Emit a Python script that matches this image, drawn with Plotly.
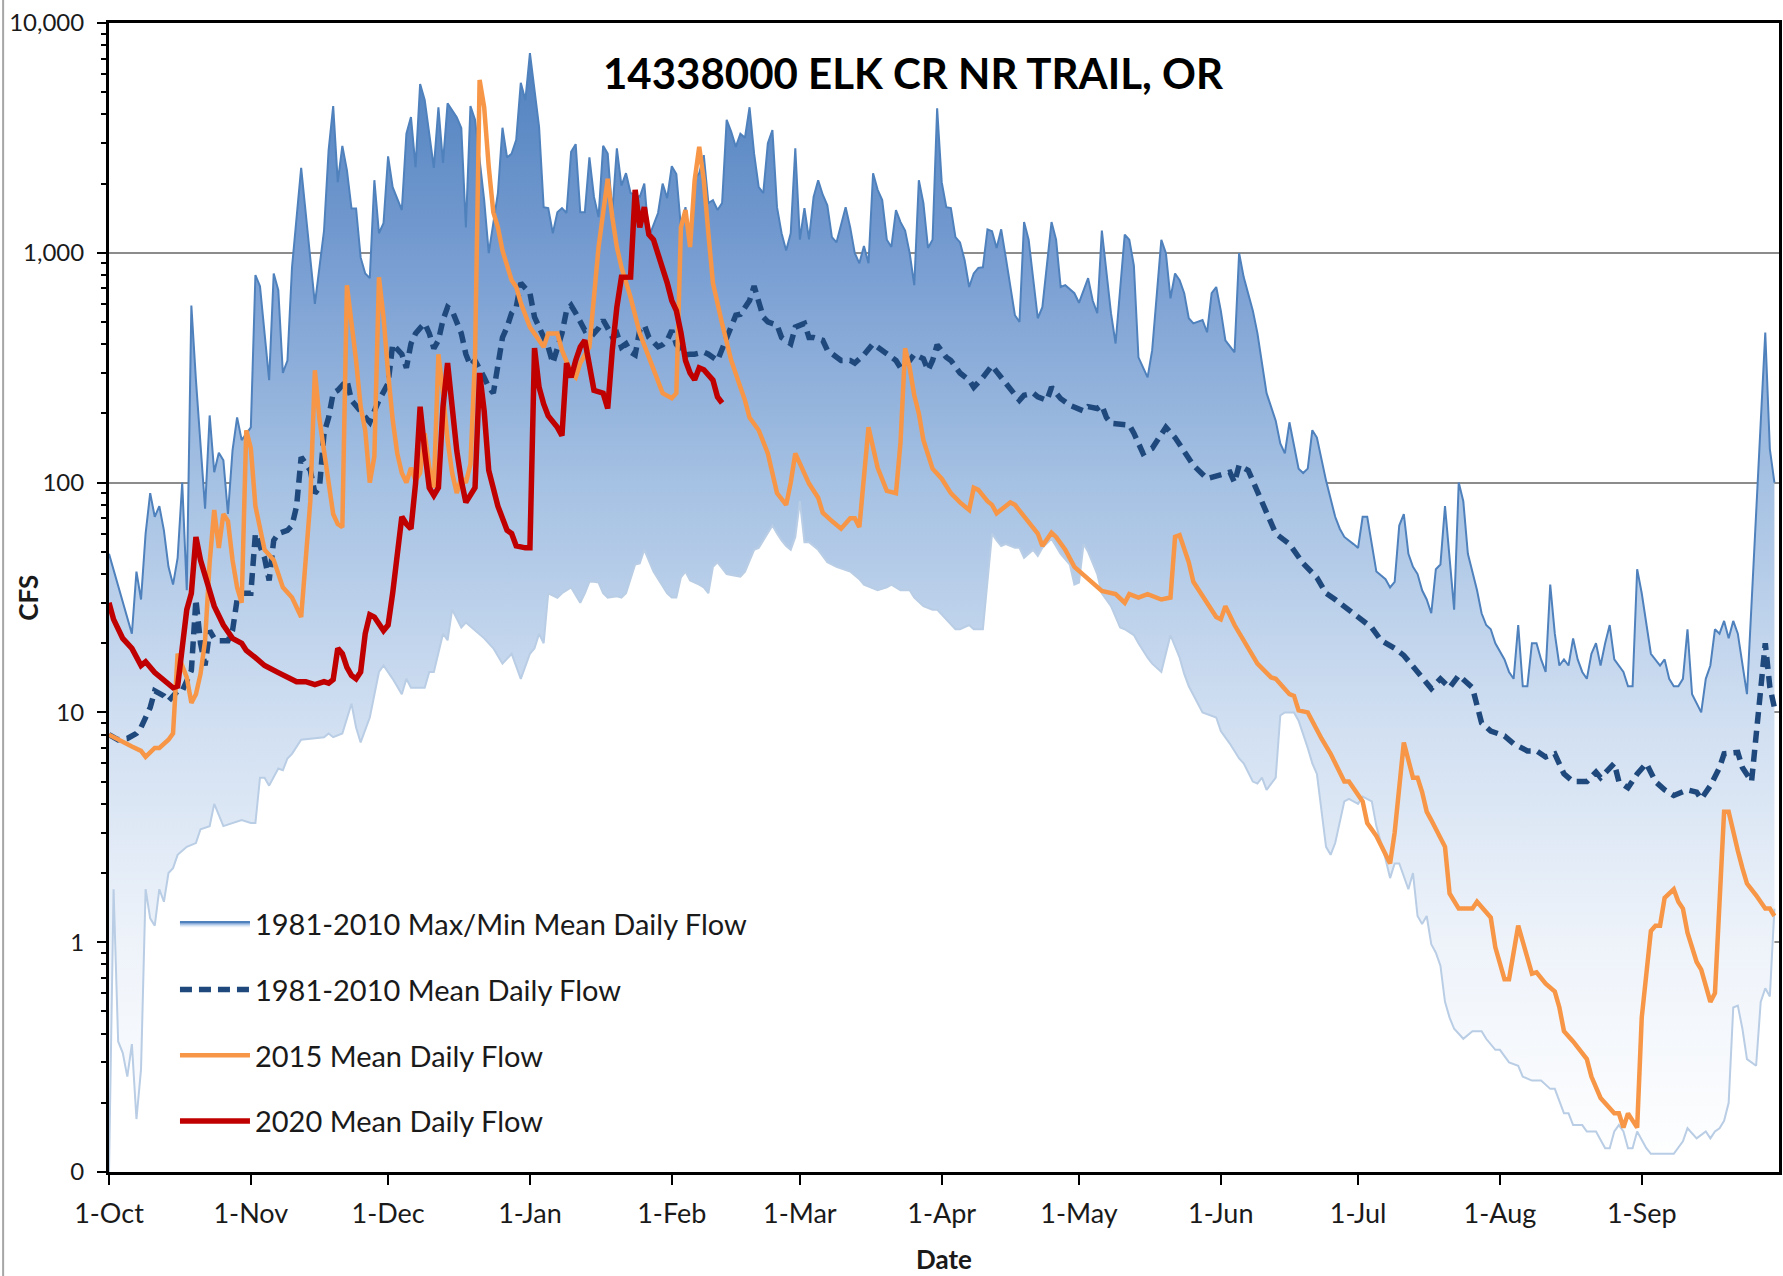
import datetime as dt
import plotly.graph_objects as go

# Water-year day index (0 = 1-Oct) and daily flow in cfs
START = dt.date(2014, 10, 1)

max_day = [0, 5, 6, 7, 8, 9, 10, 11, 12, 13, 14, 15, 16, 17, 18, 19, 21, 22, 23, 24, 25, 26, 27, 28, 29, 31,
           32, 33, 35, 36, 37, 38, 39, 40, 42, 43, 45, 47, 48, 49, 50, 51, 52, 53, 54, 55, 56, 57, 58, 59, 60,
           61, 62, 64, 65, 66, 67, 68, 69, 71, 72, 73, 74, 76, 77, 78, 79, 80, 82, 83, 85, 86, 87, 88, 89, 90,
           91, 92, 93, 94, 95, 96, 97, 98, 99, 100, 101, 102, 103, 104, 105, 106, 107, 108, 109, 110, 111, 112,
           113, 114, 116, 117, 118, 120, 121, 122, 123, 124, 125, 126, 127, 128, 129, 130, 131, 132, 133, 134,
           135, 136, 137, 138, 139, 140, 141, 142, 143, 144, 145, 146, 147, 148, 149, 150, 151, 152, 153, 154,
           155, 156, 157, 158, 159, 160, 161, 162, 163, 164, 165, 166, 167, 168, 169, 170, 171, 172, 173, 174,
           175, 176, 177, 178, 179, 180, 181, 182, 183, 184, 185, 186, 187, 188, 189, 190, 191, 192, 193, 194,
           195, 196, 198, 199, 200, 201, 203, 204, 206, 207, 208, 209, 211, 212, 214, 215, 216, 217, 219, 220,
           222, 223, 224, 225, 227, 228, 230, 231, 232, 233, 234, 235, 236, 237, 239, 240, 241, 242, 243, 244,
           246, 247, 248, 250, 251, 253, 255, 256, 257, 258, 260, 261, 262, 263, 264, 266, 268, 269, 270, 272,
           273, 274, 275, 277, 279, 280, 281, 282, 283, 284, 285, 286, 287, 288, 289, 290, 291, 292, 294, 295,
           296, 297, 299, 300, 301, 302, 303, 305, 306, 307, 308, 309, 310, 311, 312, 313, 314, 315, 316, 317,
           318, 319, 320, 321, 322, 323, 324, 325, 326, 327, 328, 329, 331, 332, 333, 334, 335, 337, 338, 339,
           340, 341, 342, 343, 344, 345, 346, 347, 348, 349, 350, 351, 352, 353, 354, 355, 356, 358, 362, 363,
           364]
max_cfs = [49, 22, 41, 31, 60, 90, 71, 79, 62, 43, 36, 47, 100, 34, 590, 280, 77, 196, 111, 135, 125, 73, 138,
           192, 153, 174, 800, 716, 279, 813, 687, 300, 340, 865, 2340, 1490, 600, 1250, 2800, 4350, 2030, 2920,
           2290, 1560, 1560, 955, 813, 776, 2070, 1216, 1345, 2630, 1930, 1535, 3300, 3900, 2360, 5420, 4620,
           2340, 4300, 2460, 4470, 3890, 3490, 1290, 4350, 3790, 1695, 997, 1820, 3500, 2600, 2700, 3100, 5490,
           4620, 7400, 5100, 3530, 1580, 1565, 1216, 1500, 1565, 1490, 2750, 2970, 1500, 1500, 2600, 1750, 1430,
           2920, 2700, 1490, 2850, 1960, 2220, 1820, 1750, 2000, 1170, 1490, 2000, 1730, 2380, 2200, 1290, 1580,
           1060, 2100, 2220, 2660, 1645, 1695, 1535, 1645, 3790, 3360, 2890, 3300, 3170, 4300, 2700, 1930, 1820,
           3000, 3420, 1580, 1216, 1023, 1216, 2850, 1140, 1565, 1145, 1750, 2070, 1790, 1610, 1170, 1110, 1345,
           1580, 1290, 997, 900, 1070, 900, 2220, 1880, 1695, 1140, 1060, 1535, 1360, 1250, 997, 723, 2070, 1645,
           1050, 1140, 4250, 2030, 1580, 1565, 1170, 1110, 930, 710, 813, 860, 865, 1265, 1240, 1050, 1265, 955,
           535, 500, 1360, 1140, 519, 580, 1360, 1140, 710, 723, 667, 606, 776, 620, 546, 1250, 546, 403, 1200,
           1140, 880, 351, 287, 377, 1140, 997, 634, 813, 760, 667, 519, 493, 510, 451, 667, 710, 560, 416, 369,
           997, 784, 560, 447, 245, 186, 148, 134, 183, 115, 110, 115, 169, 157, 102, 71, 63, 58, 54, 52, 71, 71,
           41, 38, 35, 37, 65, 73, 49, 43, 40, 34, 31, 27, 42, 44, 79, 28, 100, 83, 49, 34, 27, 24, 23, 20, 17,
           15, 14, 24, 13, 13, 20, 20, 17, 15, 36, 22, 16, 17, 16, 21, 17, 15, 14, 18, 20, 16, 20, 24, 17, 15,
           13, 13, 42, 33, 18, 17, 16, 17, 14, 13, 13, 14, 23, 12, 11, 10, 14, 16, 23, 22, 25, 21, 25, 22, 12,
           450, 140, 100]

min_day = [0, 1, 2, 3, 4, 5, 6, 7, 8, 9, 10, 11, 12, 13, 14, 15, 17, 19, 20, 22, 23, 25, 29, 31, 32, 33, 34,
           35, 37, 38, 39, 40, 42, 45, 47, 48, 49, 51, 53, 54, 55, 57, 59, 60, 62, 64, 65, 66, 68, 69, 70, 71,
           73, 74, 75, 77, 78, 80, 82, 84, 86, 88, 90, 92, 93, 94, 95, 96, 98, 99, 101, 103, 104, 105, 106, 107,
           108, 109, 111, 112, 113, 115, 116, 117, 119, 122, 123, 124, 125, 126, 127, 129, 130, 131, 132, 133,
           135, 136, 138, 139, 141, 142, 143, 145, 146, 147, 148, 149, 150, 151, 152, 153, 155, 157, 159, 162,
           164, 165, 168, 170, 171, 173, 175, 176, 178, 180, 181, 182, 183, 185, 186, 188, 189, 191, 193, 194,
           195, 196, 198, 199, 200, 202, 203, 204, 206, 208, 210, 211, 212, 213, 214, 216, 217, 219, 221, 222,
           224, 225, 227, 228, 230, 231, 232, 234, 235, 236, 238, 239, 242, 243, 245, 247, 248, 250, 251, 252,
           253, 255, 256, 257, 259, 260, 262, 263, 264, 266, 267, 268, 270, 271, 273, 274, 276, 277, 279, 280,
           281, 282, 284, 285, 286, 287, 288, 289, 290, 291, 292, 293, 294, 295, 296, 298, 300, 301, 303, 304,
           306, 308, 309, 311, 313, 315, 316, 318, 319, 320, 322, 323, 325, 327, 328, 329, 330, 331, 332, 333,
           334, 336, 337, 342, 344, 345, 347, 349, 350, 351, 352, 353, 354, 355, 356, 357, 358, 360, 361, 362,
           363, 364]
min_cfs = [0.1, 1.7, 0.37, 0.33, 0.26, 0.36, 0.17, 0.28, 1.7, 1.27, 1.18, 1.7, 1.5, 2.0, 2.1, 2.4, 2.6, 2.7,
           3.1, 3.2, 4.0, 3.2, 3.4, 3.3, 3.3, 5.2, 5.2, 4.8, 5.7, 5.6, 6.3, 6.6, 7.6, 7.7, 7.8, 8.1, 7.8, 8.1,
           10.9, 8.6, 7.4, 9.5, 15, 16, 14, 12, 14, 12.8, 12.8, 12.8, 15, 15, 22, 20.6, 28, 23.4, 24.6, 22.7,
           21, 19, 16.3, 18, 14, 18, 19, 22, 20, 33, 31.5, 33, 35, 30, 33, 37, 37, 36.7, 33, 31.6, 32, 31.6, 33,
           44, 44.5, 51, 41, 33, 31.6, 31.6, 38.7, 41, 37.5, 36, 35, 33, 43, 45, 40, 39.6, 39, 41, 51, 52, 56,
           65, 60, 56, 53, 51, 58, 83, 55, 55, 51, 45, 43, 41, 38, 36, 34, 35, 36, 34, 34, 31.6, 29, 28, 28,
           26.6, 25.4, 23, 23, 24, 23, 23, 60, 56, 53, 54, 52, 52, 47, 51, 48, 52, 57, 49, 44, 36, 36.7, 54, 50,
           40, 33, 29, 23.4, 23, 21.7, 20, 17.3, 16.3, 15, 18, 21.7, 17.3, 14.7, 13, 10.9, 10, 9.5, 8.3, 7.3,
           6.3, 6.0, 5.0, 4.9, 5.2, 4.6, 5.2, 9.7, 10, 10, 9.2, 7.0, 6.0, 5.4, 2.6, 2.4, 2.7, 4.1, 4.2, 4.0, 4.3,
           4.1, 3.2, 2.3, 1.9, 2.2, 2.2, 1.7, 2.0, 1.3, 1.2, 1.3, 0.98, 0.9, 0.79, 0.55, 0.47, 0.42, 0.4, 0.38,
           0.41, 0.41, 0.38, 0.34, 0.34, 0.3, 0.29, 0.26, 0.25, 0.25, 0.23, 0.23, 0.18, 0.18, 0.16, 0.16, 0.15,
           0.15, 0.127, 0.127, 0.15, 0.16, 0.15, 0.127, 0.127, 0.15, 0.127, 0.12, 0.12, 0.136, 0.155, 0.14, 0.15,
           0.14, 0.15, 0.155, 0.167, 0.2, 0.52, 0.53, 0.42, 0.31, 0.29, 0.55, 0.63, 0.58, 1.4]

mean_day = [0, 2, 4, 6, 7, 9, 10, 12, 13, 15, 16, 18, 19, 20, 21, 22, 23, 24, 26, 27, 28, 29, 31, 32, 34, 35,
            36, 37, 39, 40, 41, 42, 44, 45, 46, 47, 48, 49, 50, 52, 53, 55, 57, 58, 59, 61, 62, 64, 65, 66, 67,
            68, 69, 70, 71, 72, 73, 74, 75, 77, 78, 79, 80, 82, 83, 84, 85, 86, 87, 88, 89, 90, 91, 92, 93, 95,
            96, 97, 98, 99, 100, 101, 102, 103, 104, 105, 106, 107, 108, 109, 110, 111, 112, 113, 114, 115, 116,
            117, 118, 120, 121, 122, 123, 124, 126, 127, 128, 130, 131, 133, 135, 136, 137, 138, 140, 141, 142,
            143, 144, 146, 147, 149, 150, 152, 153, 154, 156, 157, 160, 162, 163, 165, 167, 168, 170, 172, 173,
            175, 176, 178, 179, 180, 181, 183, 184, 186, 188, 189, 191, 193, 194, 196, 197, 199, 200, 202, 203,
            205, 206, 208, 210, 213, 214, 216, 217, 218, 219, 223, 224, 226, 228, 231, 233, 235, 237, 240, 242,
            245, 246, 247, 249, 250, 252, 254, 255, 258, 259, 261, 264, 266, 268, 271, 273, 276, 278, 281, 283,
            285, 287, 289, 291, 293, 295, 298, 299, 300, 302, 305, 307, 310, 312, 314, 316, 318, 320, 323, 325,
            326, 329, 330, 332, 334, 336, 338, 340, 342, 345, 347, 348, 350, 352, 353, 356, 357, 359, 362, 363,
            364]
mean_cfs = [8, 7.6, 7.7, 8.1, 8.6, 10.5, 12.4, 11.8, 11.2, 12.4, 12.4, 15.2, 31, 20, 16, 22.7, 21, 20.5, 20.5,
            22.7, 31, 33, 33, 60, 47, 37.5, 56, 60, 62, 65, 79, 129, 113, 90, 95, 164, 192, 245, 252, 279, 228,
            202, 183, 205, 228, 270, 400, 362, 316, 402, 446, 470, 493, 446, 384, 416, 510, 580, 560, 446, 362,
            323, 340, 287, 260, 245, 316, 428, 475, 547, 580, 738, 701, 667, 525, 428, 389, 331, 377, 446, 560,
            590, 547, 500, 460, 470, 446, 470, 510, 470, 430, 446, 389, 402, 370, 360, 460, 485, 428, 390, 398,
            416, 460, 400, 360, 362, 362, 370, 362, 340, 428, 493, 535, 540, 620, 716, 620, 525, 500, 485, 428,
            402, 475, 493, 428, 428, 416, 377, 340, 340, 331, 360, 402, 389, 362, 340, 316, 340, 362, 346, 308,
            340, 398, 351, 340, 300, 279, 260, 287, 323, 304, 270, 252, 228, 240, 245, 236, 228, 260, 232, 217,
            205, 214, 210, 217, 192, 181, 178, 164, 134, 141, 174, 157, 138, 119, 104, 107, 111, 100, 119, 113,
            102, 83, 68, 60, 54, 51, 44.5, 38.6, 33, 31, 28, 26, 23.4, 20.6, 19, 17.7, 15.7, 14.2, 12.7, 14,
            12.8, 14.5, 12.8, 10.5, 9.0, 8.3, 7.9, 7.3, 6.8, 6.8, 6.4, 6.6, 5.4, 5.0, 5.0, 5.5, 5.2, 6.0, 5.0,
            4.7, 5.4, 6.0, 5.0, 4.6, 4.35, 4.6, 4.5, 4.2, 4.8, 5.75, 6.6, 6.7, 5.75, 5.0, 20, 12.9, 10.5]

flow2015_day = [0, 2, 5, 7, 8, 10, 11, 13, 14, 15, 17, 18, 19, 20, 21, 22, 23, 24, 25, 26, 27, 28, 29, 30, 31,
                32, 34, 36, 38, 40, 41, 42, 44, 45, 46, 48, 49, 50, 51, 52, 53, 54, 55, 56, 57, 58, 59, 60, 61,
                62, 63, 64, 65, 66, 67, 68, 69, 70, 71, 72, 73, 74, 75, 76, 77, 78, 79, 80, 81, 82, 83, 84, 85,
                86, 88, 89, 90, 92, 94, 95, 96, 98, 99, 101, 102, 103, 105, 106, 107, 108, 109, 110, 111, 112,
                114, 116, 118, 120, 121, 123, 124, 125, 126, 127, 128, 129, 130, 131, 132, 134, 136, 138, 139,
                140, 142, 144, 146, 148, 149, 150, 152, 153, 155, 156, 158, 160, 162, 163, 164, 166, 168, 170,
                172, 173, 174, 175, 176, 177, 178, 180, 182, 184, 186, 188, 189, 190, 192, 193, 194, 195, 197,
                198, 200, 202, 203, 204, 206, 207, 209, 211, 213, 215, 217, 220, 222, 223, 225, 227, 229, 230,
                232, 233, 234, 236, 237, 240, 242, 243, 244, 246, 249, 251, 254, 255, 258, 259, 260, 262, 265,
                267, 270, 271, 274, 275, 277, 280, 281, 282, 283, 285, 286, 287, 288, 289, 291, 292, 293, 295,
                298, 299, 302, 303, 305, 306, 308, 310, 311, 312, 314, 316, 317, 318, 320, 323, 324, 326, 327,
                329, 330, 331, 332, 334, 335, 337, 338, 339, 340, 342, 343, 344, 345, 347, 348, 350, 351, 352,
                353, 354, 355, 356, 357, 358, 360, 362, 363, 364]
flow2015_cfs = [8, 7.6, 7.1, 6.8, 6.4, 7.0, 7.0, 7.6, 8.1, 18, 14.2, 11, 12, 14.7, 20.5, 45, 76, 52, 73, 68, 46,
                35, 30, 169, 141, 79, 51, 46, 35, 31.6, 29, 26, 83, 308, 188, 95, 73, 66, 64, 723, 510, 340, 214,
                169, 100, 130, 783, 525, 300, 188, 134, 110, 100, 116, 102, 110, 164, 116, 95, 362, 245, 153, 110,
                90, 105, 100, 120, 350, 5650, 4300, 2360, 1500, 1290, 1023, 760, 710, 606, 475, 416, 389, 446,
                446, 377, 300, 287, 331, 389, 667, 1060, 1490, 2100, 1430, 1060, 865, 640, 446, 351, 279, 245,
                233, 245, 1290, 1535, 1060, 2070, 2890, 2070, 1216, 738, 493, 340, 260, 228, 192, 169, 134, 90,
                80, 100, 134, 111, 99, 86, 74, 68, 63, 70, 70, 64, 174, 116, 92, 90, 150, 384, 316, 240, 200,
                153, 115, 104, 90, 82, 76, 95, 93, 83, 80, 73.5, 76, 82, 80, 71, 63, 60, 53, 60.5, 58, 51, 43,
                39.6, 36.7, 33.8, 32.7, 30, 32.7, 31.6, 32.7, 31.6, 31, 31.6, 58, 59, 45, 37, 30, 26, 25.4, 29,
                24, 19, 16.3, 14.2, 14, 12, 11.8, 10.2, 10, 7.7, 6.6, 5.0, 5.0, 4.1, 3.3, 2.9, 2.2, 3.0, 4.5, 7.4,
                5.2, 5.2, 4.5, 3.7, 3.4, 2.8, 2.6, 1.63, 1.4, 1.4, 1.5, 1.28, 0.95, 0.69, 0.69, 1.18, 0.86, 0.73,
                0.74, 0.66, 0.61, 0.52, 0.41, 0.37, 0.31, 0.26, 0.21, 0.2, 0.18, 0.18, 0.156, 0.18, 0.156, 0.47,
                1.12, 1.18, 1.18, 1.56, 1.7, 1.5, 1.4, 1.1, 0.82, 0.76, 0.55, 0.6, 1.5, 3.7, 3.7, 3.0, 2.5, 2.1,
                1.8, 1.6, 1.4, 1.4, 1.3]

flow2020_day = [0, 1, 3, 5, 7, 8, 10, 12, 14, 15, 17, 18, 19, 20, 21, 23, 25, 27, 29, 30, 32, 34, 37, 39, 41,
                43, 45, 47, 48, 49, 50, 51, 52, 53, 54, 55, 56, 57, 58, 60, 61, 62, 63, 64, 65, 66, 67, 68, 69,
                70, 71, 72, 73, 74, 75, 76, 77, 78, 80, 81, 82, 83, 85, 87, 88, 89, 91, 92, 93, 94, 95, 96, 98,
                99, 100, 101, 102, 103, 104, 105, 106, 108, 109, 110, 111, 112, 114, 115, 116, 117, 118, 119, 120,
                122, 123, 124, 125, 126, 127, 128, 129, 130, 132, 133, 134]
flow2020_cfs = [30, 25.4, 21, 19, 16, 16.6, 14.9, 13.8, 12.8, 13, 28, 33, 58, 46, 40, 29, 24, 21, 20, 18.6, 17.3,
                16, 14.9, 14.2, 13.6, 13.6, 13.2, 13.6, 13.4, 13.9, 19, 18, 15.7, 14.5, 14, 15, 22, 26.6, 26,
                22.7, 24, 33, 49, 71, 66, 63, 99, 214, 138, 95, 88, 95, 214, 331, 214, 138, 102, 82, 95, 300, 205,
                113, 79, 62, 60, 53, 52, 52, 385, 260, 220, 195, 174, 160, 331, 287, 340, 389, 416, 316, 252, 245,
                210, 377, 580, 783, 785, 1880, 1290, 1580, 1200, 1140, 1000, 740, 620, 560, 450, 340, 300, 280,
                316, 310, 279, 236, 222]

y_tick_values = [0.1, 1, 10, 100, 1000, 10000]
y_tick_labels = ["0", "1", "10", "100", "1,000", "10,000"]
month_starts = ["2014-10-01", "2014-11-01", "2014-12-01", "2015-01-01", "2015-02-01", "2015-03-01",
                "2015-04-01", "2015-05-01", "2015-06-01", "2015-07-01", "2015-08-01", "2015-09-01"]


def as_dates(days):
    return [(START + dt.timedelta(days=d)).isoformat() for d in days]


FONT = "Lato"
band_scale = [
    [0.0, "rgb(255,255,255)"],
    [0.2, "rgb(238,243,250)"],
    [0.4, "rgb(207,222,241)"],
    [0.6, "rgb(165,193,227)"],
    [0.8, "rgb(118,156,209)"],
    [1.0, "rgb(74,125,187)"],
]

fig = go.Figure()

# lower edge of the historical band; white fill masks gridlines beneath it
fig.add_trace(go.Scatter(
    x=as_dates(min_day), y=min_cfs, mode="lines",
    line=dict(color="#B9CDE5", width=2),
    fill="tozeroy", fillcolor="white",
    legendgroup="band", showlegend=False, hoverinfo="skip",
))
# upper edge, filled down to the lower edge with a vertical gradient
fig.add_trace(go.Scatter(
    x=as_dates(max_day), y=max_cfs, mode="lines",
    name="1981-2010 Max/Min Mean Daily Flow",
    line=dict(color="#4F81BD", width=2),
    fill="tonexty",
    fillgradient=dict(type="vertical", colorscale=band_scale, start=0.1, stop=10000),
    legendgroup="band",
))
fig.add_trace(go.Scatter(
    x=as_dates(mean_day), y=mean_cfs, mode="lines",
    name="1981-2010 Mean Daily Flow",
    line=dict(color="#1F497D", width=5.5, dash="12px,7px"),
    legendgroup="mean",
))
fig.add_trace(go.Scatter(
    x=as_dates(flow2015_day), y=flow2015_cfs, mode="lines",
    name="2015 Mean Daily Flow",
    line=dict(color="#F79646", width=4.5),
    legendgroup="y2015",
))
fig.add_trace(go.Scatter(
    x=as_dates(flow2020_day), y=flow2020_cfs, mode="lines",
    name="2020 Mean Daily Flow",
    line=dict(color="#C00000", width=5.5),
    legendgroup="y2020",
))

minor_vals = [k * 10 ** e for e in range(-1, 4) for k in range(2, 10)]

fig.update_layout(
    width=1783, height=1276,
    margin=dict(l=109, r=1, t=23, b=104),
    paper_bgcolor="white", plot_bgcolor="white",
    font=dict(family=FONT, color="#1a1a1a"),
    showlegend=True,
    legend=dict(
        x=0.0395, y=0.238, xanchor="left", yanchor="top",
        bgcolor="rgba(0,0,0,0)", font=dict(family=FONT, size=29, color="#1a1a1a"),
        itemwidth=70, traceorder="grouped", tracegroupgap=25,
    ),
    xaxis=dict(
        type="date", range=["2014-10-01", "2015-10-01"],
        tickvals=month_starts, tickformat="%-d-%b",
        ticks="outside", ticklen=10, tickwidth=2, tickcolor="black",
        showline=True, linecolor="black", linewidth=3, mirror=True,
        showgrid=False, zeroline=False,
        tickfont=dict(family=FONT, size=27, color="#1a1a1a"),
        ticklabelstandoff=6,
        title=dict(text="<b>Date</b>", font=dict(family=FONT, size=26, color="#1a1a1a"), standoff=23),
    ),
    yaxis=dict(
        type="log", range=[-1, 4],
        tickvals=y_tick_values, ticktext=y_tick_labels,
        ticks="outside", ticklen=9, tickwidth=2, tickcolor="black",
        showline=True, linecolor="black", linewidth=3, mirror=True,
        showgrid=True, gridcolor="#8C8C8C", gridwidth=2,
        minor=dict(tickvals=minor_vals, ticks="outside", ticklen=5, tickwidth=2, tickcolor="black", showgrid=False),
        tickfont=dict(family=FONT, size=24, color="#1a1a1a"),
        ticklabelstandoff=8,
        zeroline=False,
    ),
    annotations=[
        dict(text="14338000 ELK CR NR TRAIL, OR", xref="paper", yref="paper", x=0.4818, y=0.9565,
             xanchor="center", yanchor="middle", showarrow=False,
             font=dict(family=FONT, size=42, color="black", weight="bold")),
        dict(text="<b>CFS</b>", xref="paper", yref="paper", x=-0.049, y=0.5, textangle=-90,
             xanchor="center", yanchor="middle", showarrow=False,
             font=dict(family=FONT, size=26, color="#1a1a1a")),
    ],
    shapes=[
        dict(type="line", xref="paper", yref="paper", x0=-0.0634, x1=-0.0634, y0=-0.2, y1=1.1,
             line=dict(color="#A6A6A6", width=2)),
    ],
)

fig.write_html("out.html")
